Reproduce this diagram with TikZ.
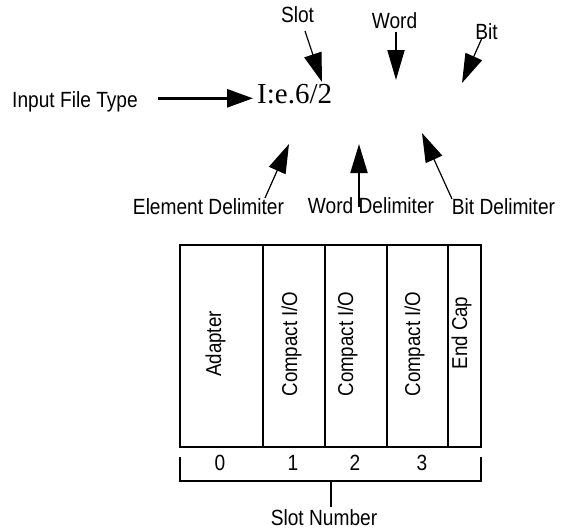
\documentclass[tikz,border=0pt]{standalone}
\usepackage{fontspec}
\setmainfont{Liberation Sans}[FakeStretch=0.87]
\newfontfamily\addrfont{Liberation Serif}
\usetikzlibrary{arrows.meta}
\begin{document}
\begin{tikzpicture}[x=1pt,y=-1pt,
  lbl/.style={font=\fontsize{22}{24}\selectfont, inner sep=0pt, anchor=base},
  vlbl/.style={font=\fontsize{21.5}{24}\selectfont, inner sep=0pt, anchor=base, rotate=90},
  arr/.style={-{Triangle[length=29pt,width=18pt]}, line width=1.2pt},
  arrb/.style={arr, line width=2pt},
  rack/.style={line width=1.5pt}]
\useasboundingbox (0,0) rectangle (562,531);

% address labels
\node[lbl] (slot) at (297.5,22.5) {Slot};
\node[lbl] (word) at (394.5,28) {Word};
\node[lbl] (bit) at (486.5,39) {Bit};
\node[lbl] (ift) at (75,107) {Input File Type};
\node[inner sep=0pt, anchor=base west, font=\addrfont\fontsize{29}{31}\selectfont] (addr) at (257,103) {I:e.6/2};
\node[lbl] (eld) at (208.5,214) {Element Delimiter};
\node[lbl] (wdd) at (371,213) {Word Delimiter};
\node[lbl] (btd) at (503.5,214) {Bit Delimiter};

% arrow ends
\coordinate (slotT) at (305,31);  \coordinate (slotH) at (322,82);
\coordinate (wordT) at (396,32);  \coordinate (wordH) at (396,80);
\coordinate (bitT) at (482,38);   \coordinate (bitH) at (462,83);
\coordinate (iftT) at (158,98.3); \coordinate (iftH) at (253,98.3);
\coordinate (eldT) at (265,198);  \coordinate (eldH) at (289,144);
\coordinate (wddT) at (359,207);  \coordinate (wddH) at (359,144);
\coordinate (btdT) at (452,199);  \coordinate (btdH) at (422,133);

\draw[arr] (slotT) -- (slotH);
\draw[arrb,-{Triangle[length=30pt,width=17pt]}] (wordT) -- (wordH);
\draw[arr] (bitT) -- (bitH);
\draw[arr,line width=2.8pt,-{Triangle[length=26pt,width=18pt]}] (iftT) -- (iftH);
\draw[arr] (eldT) -- (eldH);
\draw[arrb,-{Triangle[length=29pt,width=17pt]}] (wddT) -- (wddH);
\draw[arr] (btdT) -- (btdH);

% rack
\draw[rack] (180,245) rectangle (481,447);
\foreach \xx in {263,325,387,448} \draw[rack] (\xx,245) -- (\xx,447);
\node[vlbl] (m0) at (221,344) {Adapter};
\node[vlbl] (m1) at (297,344) {Compact I/O};
\node[vlbl] (m2) at (353,344) {Compact I/O};
\node[vlbl] (m3) at (420,344) {Compact I/O};
\node[vlbl] (m4) at (467,333) {End Cap};

% slot numbers
\node[lbl] (n0) at (220,470) {0};
\node[lbl] (n1) at (293,470) {1};
\node[lbl] (n2) at (355,470) {2};
\node[lbl] (n3) at (422,470) {3};

% bracket
\coordinate (bl) at (180,457); \coordinate (br) at (481,457);
\coordinate (stemtop) at (331,481); \coordinate (stembot) at (331,507);
\draw[rack] (bl) -- (180,481) -- (481,481) -- (br);
\node[lbl] (sn) at (324,525) {Slot Number};
\draw[rack] (stemtop) -- (stembot);
\end{tikzpicture}
\end{document}
